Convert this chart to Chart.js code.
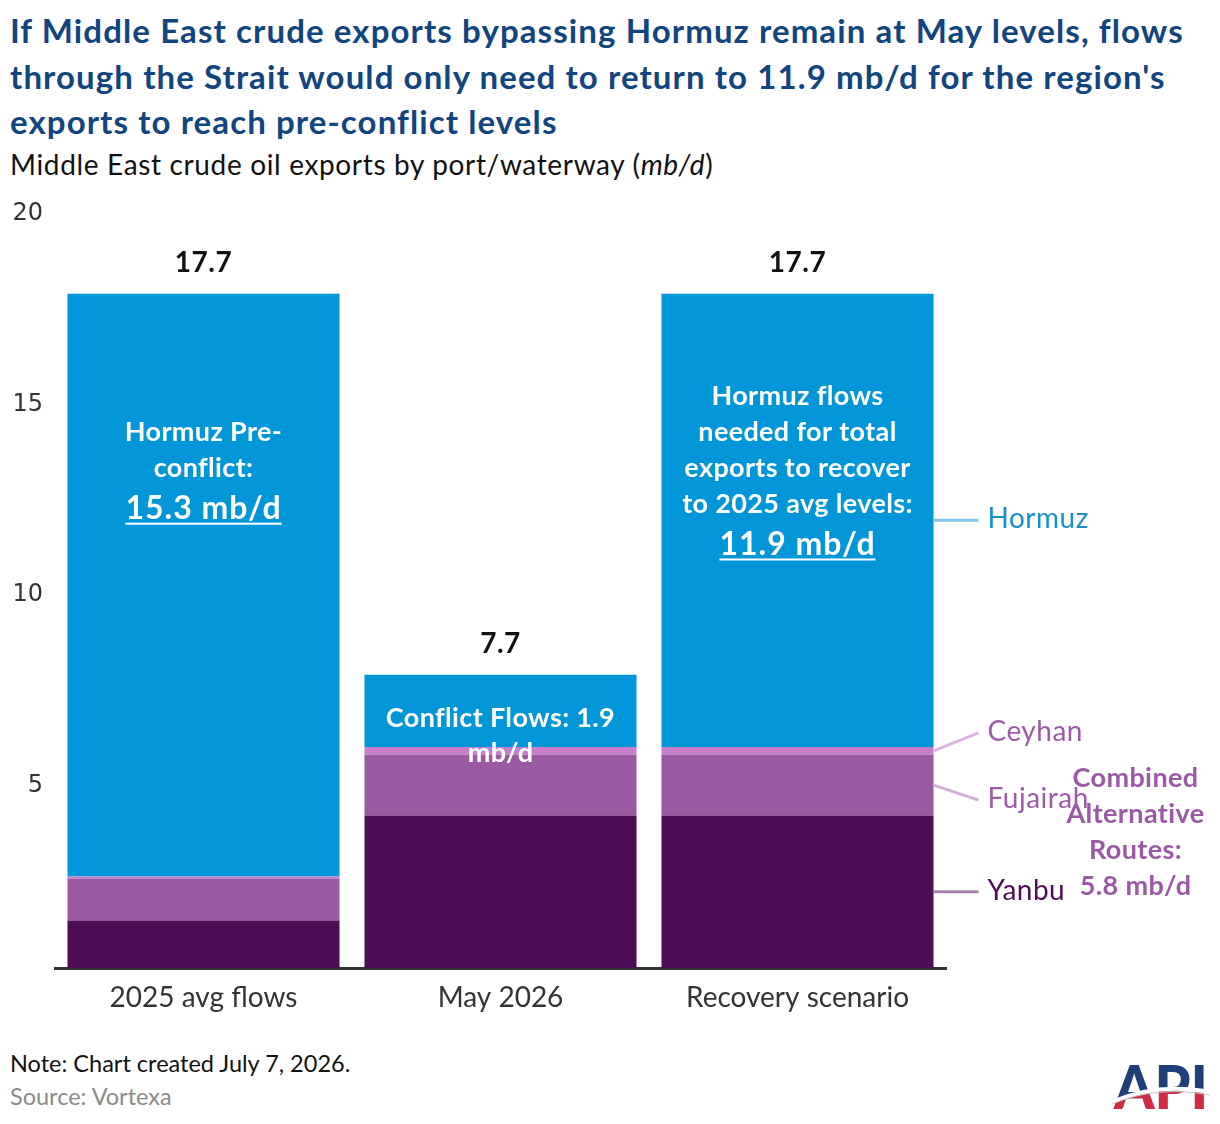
<!DOCTYPE html>
<html lang="en">
<head>
  <meta charset="UTF-8">
  <title>Middle East crude oil exports by port/waterway</title>
  <style>
    body { margin: 0; background: #fff; font-family: Lato, sans-serif; }
    #page { position: relative; width: 1220px; height: 1124px; overflow: hidden; }
    h1 {
      position: absolute; left: 10px; top: 8px; margin: 0;
      font-size: 33px; line-height: 45.5px; color: #10457f; letter-spacing: 1.1px;
      font-weight: bold; white-space: nowrap;
    }
    .sub { position: absolute; left: 10px; top: 148px; font-size: 28px; line-height: 32px; letter-spacing: 0.65px; color: #111; white-space: nowrap; }
    #wrap { position: absolute; left: 0; top: 190px; width: 1220px; height: 840px; }
    .note { position: absolute; left: 10px; top: 1050px; font-size: 23.5px; line-height: 26px; color: #111; }
    .source { position: absolute; left: 10px; top: 1083px; font-size: 23.5px; line-height: 26px; color: #8a8a8a; }
    #logo { position: absolute; left: 1112px; top: 1058px; }
  </style>
  <script src="https://cdn.jsdelivr.net/npm/chart.js"></script>
</head>
<body>
<div id="page">
  <h1>If Middle East crude exports bypassing Hormuz remain at May levels, flows<br>through the Strait would only need to return to 11.9 mb/d for the region's<br>exports to reach pre-conflict levels</h1>
  <div class="sub">Middle East crude oil exports by port/waterway (<i>mb/d</i>)</div>
  <div id="wrap"><canvas id="chart" width="1220" height="840"></canvas></div>
  <div class="note">Note: Chart created July 7, 2026.</div>
  <div class="source">Source: Vortexa</div>
  <svg id="logo" width="98" height="54" viewBox="0 0 98 54">
    <defs>
      <clipPath id="bot"><path d="M0 54 L0 44 Q45 24 98 34 L98 54 Z"/></clipPath>
    </defs>
    <text x="2" y="51" font-family="Lato" font-weight="900" font-size="60" fill="#1f3f78" textLength="94" lengthAdjust="spacingAndGlyphs">API</text>
    <text x="2" y="51" font-family="Lato" font-weight="900" font-size="60" fill="#d42a44" textLength="94" lengthAdjust="spacingAndGlyphs" clip-path="url(#bot)">API</text>
    <path d="M0 44 Q45 24 98 34" stroke="#fff" stroke-width="4" fill="none"/>
    <path d="M0 46 Q45 27 98 37" stroke="#c8c8c8" stroke-width="1" fill="none"/>
  </svg>
</div>

<script>
  // data (mb/d)
  const categories = ['2025 avg flows', 'May 2026', 'Recovery scenario'];
  const yanbu = [1.25, 4.0, 4.0];
  const fujairah = [1.1, 1.6, 1.6];
  const ceyhan = [0.05, 0.2, 0.2];
  const hormuz = [15.3, 1.9, 11.9];
  const yTicks = [5, 10, 15, 20];

  const colors = { yanbu: '#4d0e55', fujairah: '#9a5aa2', ceyhan: '#c77fcc', hormuz: '#0096d8' };

  function underlined(ctx, text, cx, cy) {
    ctx.fillText(text, cx, cy);
    const w = ctx.measureText(text).width;
    ctx.fillRect(cx - w / 2, cy + 14, w, 2);
  }

  const labelsPlugin = {
    id: 'labels',
    afterDatasetsDraw(chart) {
      const { ctx, scales: { x, y } } = chart;
      ctx.save();
      ctx.textAlign = 'center';
      ctx.textBaseline = 'middle';

      // totals above bars
      ctx.font = 'bold 28px Lato';
      ctx.letterSpacing = '0.5px';
      ctx.fillStyle = '#111';
      categories.forEach((c, i) => {
        const total = yanbu[i] + fujairah[i] + ceyhan[i] + hormuz[i];
        ctx.fillText(total.toFixed(1), x.getPixelForValue(i), y.getPixelForValue(total) - 31);
      });

      // text inside the Hormuz segments
      ctx.fillStyle = '#fff';
      let cx = x.getPixelForValue(0);
      let top = y.getPixelForValue(14.05);
      ctx.font = 'bold 27px Lato';
      ctx.letterSpacing = '0.35px';
      ctx.fillText('Hormuz Pre-', cx, top);
      ctx.fillText('conflict:', cx, top + 36);
      ctx.font = 'bold 32px Lato';
      ctx.letterSpacing = '1px';
      underlined(ctx, hormuz[0].toFixed(1) + ' mb/d', cx, top + 76);

      cx = x.getPixelForValue(1);
      top = y.getPixelForValue(6.55);
      ctx.font = 'bold 27px Lato';
      ctx.letterSpacing = '0.35px';
      ctx.fillText('Conflict Flows: ' + hormuz[1].toFixed(1), cx, top);
      ctx.fillText('mb/d', cx, top + 35);

      cx = x.getPixelForValue(2);
      top = y.getPixelForValue(15.0);
      ['Hormuz flows', 'needed for total', 'exports to recover', 'to 2025 avg levels:'].forEach((t, k) => {
        ctx.fillText(t, cx, top + k * 36);
      });
      ctx.font = 'bold 32px Lato';
      ctx.letterSpacing = '1px';
      underlined(ctx, hormuz[2].toFixed(1) + ' mb/d', cx, top + 148);

      // series labels with leader lines on the right of the last bar
      const bar = chart.getDatasetMeta(3).data[2];
      const x0 = bar.x + bar.width / 2;
      const x1 = x0 + 45;
      const base = [0, yanbu[2], yanbu[2] + fujairah[2], yanbu[2] + fujairah[2] + ceyhan[2]];
      const series = [
        { name: 'Hormuz', mid: base[3] + hormuz[2] / 2, dy: 0, line: '#80c4ea', text: '#1a8fd0' },
        { name: 'Ceyhan', mid: base[2] + ceyhan[2] / 2, dy: -18, line: '#dcb3df', text: '#9b5ba6' },
        { name: 'Fujairah', mid: base[1] + fujairah[2] / 2, dy: 15, line: '#d2b0d6', text: '#9b5ba6' },
        { name: 'Yanbu', mid: yanbu[2] / 2, dy: 0, line: '#a77fae', text: '#4d0e55' }
      ];
      ctx.lineWidth = 3;
      ctx.textAlign = 'left';
      ctx.font = '28px Lato';
      ctx.letterSpacing = '0.5px';
      series.forEach(s => {
        const py = y.getPixelForValue(s.mid);
        ctx.strokeStyle = s.line;
        ctx.beginPath();
        ctx.moveTo(x0, py);
        ctx.lineTo(x1, py + s.dy);
        ctx.stroke();
        ctx.fillStyle = s.text;
        ctx.fillText(s.name, x1 + 9, py + s.dy - 1);
      });

      // combined alternative routes note
      const alt = yanbu[2] + fujairah[2] + ceyhan[2];
      ctx.textAlign = 'center';
      ctx.font = 'bold 27px Lato';
      ctx.letterSpacing = '0.4px';
      ctx.fillStyle = '#9b59a5';
      const ax = x0 + 202;
      const ay = y.getPixelForValue(alt) + 31;
      ['Combined', 'Alternative', 'Routes:', alt.toFixed(1) + ' mb/d'].forEach((t, k) => {
        ctx.fillText(t, ax, ay + k * 36);
      });
      ctx.restore();
    }
  };

  new Chart(document.getElementById('chart'), {
    type: 'bar',
    data: {
      labels: categories,
      datasets: [
        { label: 'Yanbu', data: yanbu, backgroundColor: colors.yanbu },
        { label: 'Fujairah', data: fujairah, backgroundColor: colors.fujairah },
        { label: 'Ceyhan', data: ceyhan, backgroundColor: colors.ceyhan },
        { label: 'Hormuz', data: hormuz, backgroundColor: colors.hormuz }
      ]
    },
    options: {
      responsive: false,
      animation: false,
      layout: { padding: { top: 16, right: 274, bottom: 0, left: 0 } },
      datasets: { bar: { barPercentage: 0.916, categoryPercentage: 1, borderWidth: 0 } },
      plugins: { legend: { display: false }, tooltip: { enabled: false } },
      scales: {
        x: {
          stacked: true,
          grid: { display: false, drawTicks: false },
          border: { display: true, color: '#333', width: 3 },
          ticks: { color: '#333', font: { family: 'Lato', size: 28 }, padding: 13 },
          afterFit: s => { s.height = 62; }
        },
        y: {
          stacked: true,
          min: 0,
          max: 20,
          grid: { display: false, drawTicks: false },
          border: { display: false },
          afterBuildTicks: s => { s.ticks = yTicks.map(v => ({ value: v })); },
          ticks: { color: '#333', font: { family: 'DejaVu Sans', size: 24 }, padding: 12, labelOffset: 8 },
          afterFit: s => { s.width = 55; s.paddingTop = 0; s.paddingBottom = 0; }
        }
      }
    },
    plugins: [labelsPlugin]
  });
</script>
</body>
</html>
